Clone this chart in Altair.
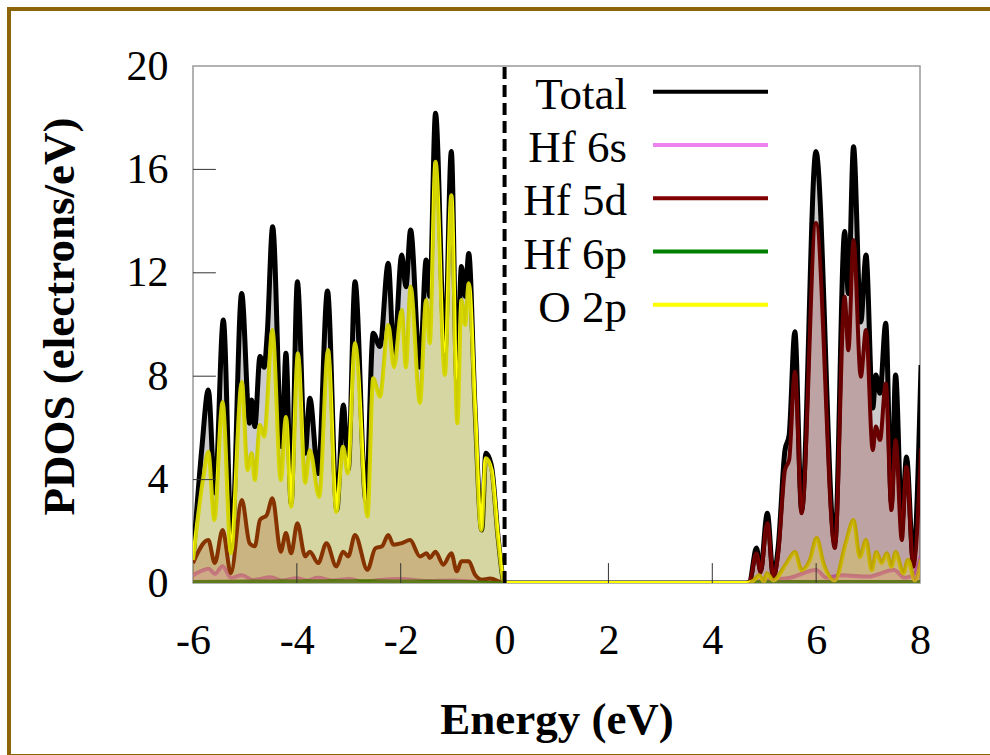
import altair as alt
import pandas as pd

# ---------------- data ----------------
total = [(-6.0, 0.89), (-5.83, 5.2), (-5.705, 7.47), (-5.577, 3.48), (-5.416, 10.17), (-5.255, 1.54),
         (-5.063, 11.2), (-4.91, 6.18), (-4.87, 7.08), (-4.81, 6.05), (-4.71, 8.76), (-4.63, 8.35),
         (-4.57, 9.66), (-4.466, 13.78), (-4.29, 5.27), (-4.21, 8.89), (-4.11, 3.09), (-3.99, 11.65),
         (-3.84, 5.02), (-3.75, 7.15), (-3.59, 4.24), (-3.41, 11.3), (-3.23, 2.82), (-3.105, 6.89),
         (-3.01, 4.4), (-2.88, 11.65), (-2.67, 3.2), (-2.53, 9.66), (-2.40, 9.15), (-2.24, 12.37),
         (-2.13, 8.76), (-1.98, 12.69), (-1.90, 11.46), (-1.81, 13.66), (-1.63, 8.35), (-1.51, 12.5),
         (-1.44, 11.09), (-1.33, 18.17), (-1.15, 8.89), (-1.025, 16.69), (-0.92, 7.85), (-0.83, 12.24),
         (-0.76, 11.09), (-0.69, 12.75), (-0.57, 6.81), (-0.44, 2.05), (-0.36, 5.02), (-0.25, 4.5),
         (-0.12, 1.67), (0.0, 0.0), (4.65, 0.0), (4.72, 0.05), (4.85, 1.35), (4.93, 0.5), (5.06, 2.7),
         (5.175, 0.26), (5.27, 1.4), (5.40, 5.14), (5.48, 5.72), (5.59, 9.72), (5.72, 2.82), (5.996, 16.69),
         (6.36, 1.55), (6.55, 13.6), (6.62, 11.2), (6.72, 16.88), (6.86, 10.1), (6.96, 12.69), (7.09, 6.77),
         (7.15, 8.05), (7.23, 7.34), (7.34, 10.05), (7.45, 3.09), (7.53, 8.05), (7.65, 2.32), (7.74, 4.87),
         (7.87, 0.89), (8.02, 8.43)]

hf6s = [(-6.0, 0.3), (-5.8, 0.5), (-5.7, 0.55), (-5.58, 0.35), (-5.43, 0.65), (-5.27, 0.2), (-5.06, 0.3),
        (-4.85, 0.12), (-4.5, 0.22), (-4.3, 0.1), (-4.0, 0.18), (-3.8, 0.1), (-3.6, 0.2), (-3.3, 0.1),
        (-3.0, 0.15), (-2.7, 0.05), (-2.4, 0.12), (-2.0, 0.15), (-1.5, 0.08), (-1.0, 0.1), (-0.5, 0.04),
        (0.0, 0.0), (4.65, 0.0), (5.0, 0.1), (5.5, 0.2), (6.0, 0.5), (6.2, 0.2), (6.5, 0.3), (7.0, 0.25),
        (7.5, 0.5), (7.7, 0.2), (7.87, 0.3), (8.02, 1.05)]

hf5d = [(-6.0, 0.77), (-5.705, 1.66), (-5.58, 0.77), (-5.43, 2.05), (-5.27, 0.38), (-5.06, 3.21),
        (-4.91, 1.54), (-4.81, 1.42), (-4.71, 2.44), (-4.58, 2.63), (-4.47, 3.28), (-4.31, 1.21),
        (-4.21, 1.93), (-4.11, 1.15), (-3.99, 2.31), (-3.84, 1.03), (-3.75, 1.21), (-3.59, 0.77),
        (-3.43, 1.54), (-3.24, 0.64), (-3.11, 1.21), (-3.01, 1.03), (-2.88, 1.86), (-2.64, 0.51),
        (-2.49, 1.34), (-2.36, 1.42), (-2.24, 1.86), (-2.14, 1.48), (-1.98, 1.54), (-1.82, 1.66),
        (-1.63, 1.03), (-1.50, 1.15), (-1.44, 0.97), (-1.33, 1.21), (-1.18, 0.71), (-1.025, 1.15),
        (-0.92, 0.45), (-0.83, 0.84), (-0.69, 0.84), (-0.57, 0.32), (-0.44, 0.13), (-0.28, 0.17),
        (0.0, 0.0), (4.65, 0.0), (4.72, 0.05), (4.85, 1.15), (4.93, 0.4), (5.06, 2.32), (5.175, 0.2),
        (5.27, 1.15), (5.40, 4.37), (5.48, 4.76), (5.59, 8.17), (5.72, 2.7), (5.996, 13.93), (6.36, 1.35),
        (6.55, 11.07), (6.62, 9.0), (6.72, 13.27), (6.86, 7.98), (6.96, 9.79), (7.09, 5.14), (7.15, 6.05),
        (7.23, 5.53), (7.34, 7.72), (7.45, 2.82), (7.53, 5.53), (7.65, 1.66), (7.74, 4.5), (7.87, 0.63),
        (8.02, 5.2)]

hf6p = [(-6.0, 0.05), (-3.0, 0.08), (-1.0, 0.06), (0.0, 0.0), (4.65, 0.0), (5.0, 0.05), (8.02, 0.05)]

o2p = [(-6.0, 0.89), (-5.80, 4.1), (-5.705, 5.08), (-5.59, 2.44), (-5.43, 7.0), (-5.27, 1.15), (-5.06, 7.78),
       (-4.95, 4.37), (-4.87, 5.02), (-4.81, 3.98), (-4.71, 6.11), (-4.63, 5.66), (-4.47, 9.79), (-4.31, 3.98),
       (-4.21, 6.42), (-4.11, 2.95), (-3.98, 8.89), (-3.84, 3.87), (-3.75, 5.14), (-3.57, 3.33), (-3.40, 9.01),
       (-3.24, 2.76), (-3.11, 5.27), (-3.02, 4.24), (-2.88, 9.28), (-2.64, 2.57), (-2.53, 7.92), (-2.40, 7.21),
       (-2.24, 9.98), (-2.13, 8.35), (-1.98, 10.56), (-1.90, 8.35), (-1.81, 11.46), (-1.63, 6.96),
       (-1.51, 10.95), (-1.44, 9.28), (-1.33, 16.3), (-1.15, 8.05), (-1.025, 15.0), (-0.91, 6.18),
       (-0.83, 10.95), (-0.76, 9.98), (-0.69, 11.6), (-0.57, 6.81), (-0.45, 2.05), (-0.36, 4.83),
       (-0.25, 4.37), (-0.12, 1.67), (0.0, 0.0), (4.65, 0.0), (4.8, 0.1), (4.9, 0.3), (5.0, 0.05),
       (5.05, 0.38), (5.175, 0.1), (5.43, 0.77), (5.59, 1.2), (5.72, 0.5), (5.88, 0.9), (6.01, 1.74),
       (6.14, 0.77), (6.36, 0.1), (6.57, 1.55), (6.72, 2.44), (6.84, 1.0), (6.96, 1.66), (7.07, 0.5),
       (7.16, 1.2), (7.26, 0.77), (7.36, 1.15), (7.45, 0.63), (7.53, 1.2), (7.68, 0.38), (7.77, 0.9),
       (7.90, 0.1), (8.02, 0.9)]

series_names = ["Total", "Hf 6s", "Hf 5d", "Hf 6p", "O 2p"]
series_data = [total, hf6s, hf5d, hf6p, o2p]
series_colors = ["#000000", "#EE82EE", "#800000", "#008000", "#FFFF00"]

x_tick_labels = [-6, -4, -2, 0, 2, 4, 6, 8]
y_tick_labels = [0, 4, 8, 12, 16, 20]
x_inner_ticks = [-4, -2, 2, 4, 6]
y_inner_ticks = [4, 8, 12, 16]
fermi_level = [0.0]

# ---------------- styling ----------------
FONT = "Liberation Serif"
xscale = alt.Scale(domain=[-6, 8], nice=False, zero=False)
yscale = alt.Scale(domain=[0, 20], nice=False)

xaxis = alt.Axis(values=x_tick_labels, title="Energy (eV)", labelFont=FONT, labelFontSize=42,
                 labelExpr="'' + datum.value",
                 labelColor="black", labelBaseline="alphabetic", labelPadding=70, labelFlush=False,
                 ticks=False, tickSize=0, domain=False, grid=False,
                 titleFont=FONT, titleFontSize=45, titleFontWeight="bold", titleColor="black",
                 titleBaseline="alphabetic", titleY=150)
yaxis = alt.Axis(values=y_tick_labels, title="PDOS (electrons/eV)", labelFont=FONT, labelFontSize=42,
                 labelExpr="'' + datum.value",
                 labelColor="black", labelPadding=25, labelFlush=False,
                 ticks=False, tickSize=0, domain=False, grid=False,
                 titleFont=FONT, titleFontSize=45, titleFontWeight="bold", titleColor="black",
                 titleBaseline="alphabetic", titleX=-120, titleY=250)

def X(f):
    return alt.X(f, scale=xscale, axis=xaxis)

def Y(f):
    return alt.Y(f, scale=yscale, axis=yaxis)

fill_op = [0.2, 0.2, 0.2, 0.2, 0.2]
line_w = [5, 4, 4, 3.5, 4]

frames = []
for name, pts in zip(series_names, series_data):
    df = pd.DataFrame(pts, columns=["E", "PDOS"])
    df["series"] = name
    frames.append(df)

layers = []
# curves first, then the translucent fills on top of them
for df, col, w in zip(frames, series_colors, line_w):
    layers.append(alt.Chart(df).mark_line(color=col, strokeWidth=w, interpolate="monotone", clip=True)
                  .encode(x=X("E:Q"), y=Y("PDOS:Q")))
for df, col, op in zip(frames, series_colors, fill_op):
    layers.append(alt.Chart(df).mark_area(color=col, fillOpacity=op, interpolate="monotone", clip=True)
                  .encode(x=X("E:Q"), y=Y("PDOS:Q")))

# inward ticks
xt = pd.DataFrame({"E": x_inner_ticks})
xt["y0"] = 0.0
xt["y1"] = 0.77
layers.append(alt.Chart(xt).mark_rule(color="#333333", strokeWidth=1)
              .encode(x=X("E:Q"), y=Y("y0:Q"), y2="y1:Q"))
yt = pd.DataFrame({"PDOS": y_inner_ticks})
yt["x0"] = -6.0
yt["x1"] = -5.56
layers.append(alt.Chart(yt).mark_rule(color="#333333", strokeWidth=1)
              .encode(y=Y("PDOS:Q"), x=X("x0:Q"), x2="x1:Q"))

# Fermi level dashed line
fl = pd.DataFrame({"E": fermi_level})
fl["y0"] = 0.0
fl["y1"] = 20.0
layers.append(alt.Chart(fl).mark_rule(color="black", strokeWidth=4, strokeDash=[12, 6])
              .encode(x=X("E:Q"), y=Y("y0:Q"), y2="y1:Q"))

# legend (gnuplot style: label left, sample line right)
leg = pd.DataFrame({"name": series_names, "color": series_colors})
leg["row"] = range(len(leg))
leg["ty"] = 18.34 - 2.058 * leg["row"]
leg["ly"] = leg["ty"] + 0.66
leg["tx"] = 2.357
leg["lx1"] = 2.858
leg["lx2"] = 5.073
layers.append(alt.Chart(leg).mark_text(align="right", baseline="alphabetic", font=FONT, fontSize=45,
                                       color="black")
              .encode(x=X("tx:Q"), y=Y("ty:Q"), text="name:N"))
layers.append(alt.Chart(leg).mark_rule(strokeWidth=4)
              .encode(x=X("lx1:Q"), x2="lx2:Q", y=Y("ly:Q"),
                      color=alt.Color("color:N", scale=None)))

# outer frame (right edge lies beyond the page)
frame = alt.Chart(pd.DataFrame({"a": [0]})).mark_rect(filled=False, stroke="#8B6508", strokeWidth=4).encode(
    x=alt.value(-184), x2=alt.value(812), y=alt.value(-57), y2=alt.value(690))
layers.append(frame)

chart = alt.layer(*layers).properties(
    width=727, height=517,
    padding={"left": 193, "top": 66, "right": 70, "bottom": 172},
    autosize=alt.AutoSizeParams(type="none"),
    background="white",
).configure_view(stroke="#999999", strokeWidth=1.5)

chart.save("out.html", embed_options={"renderer": "svg", "actions": False})
